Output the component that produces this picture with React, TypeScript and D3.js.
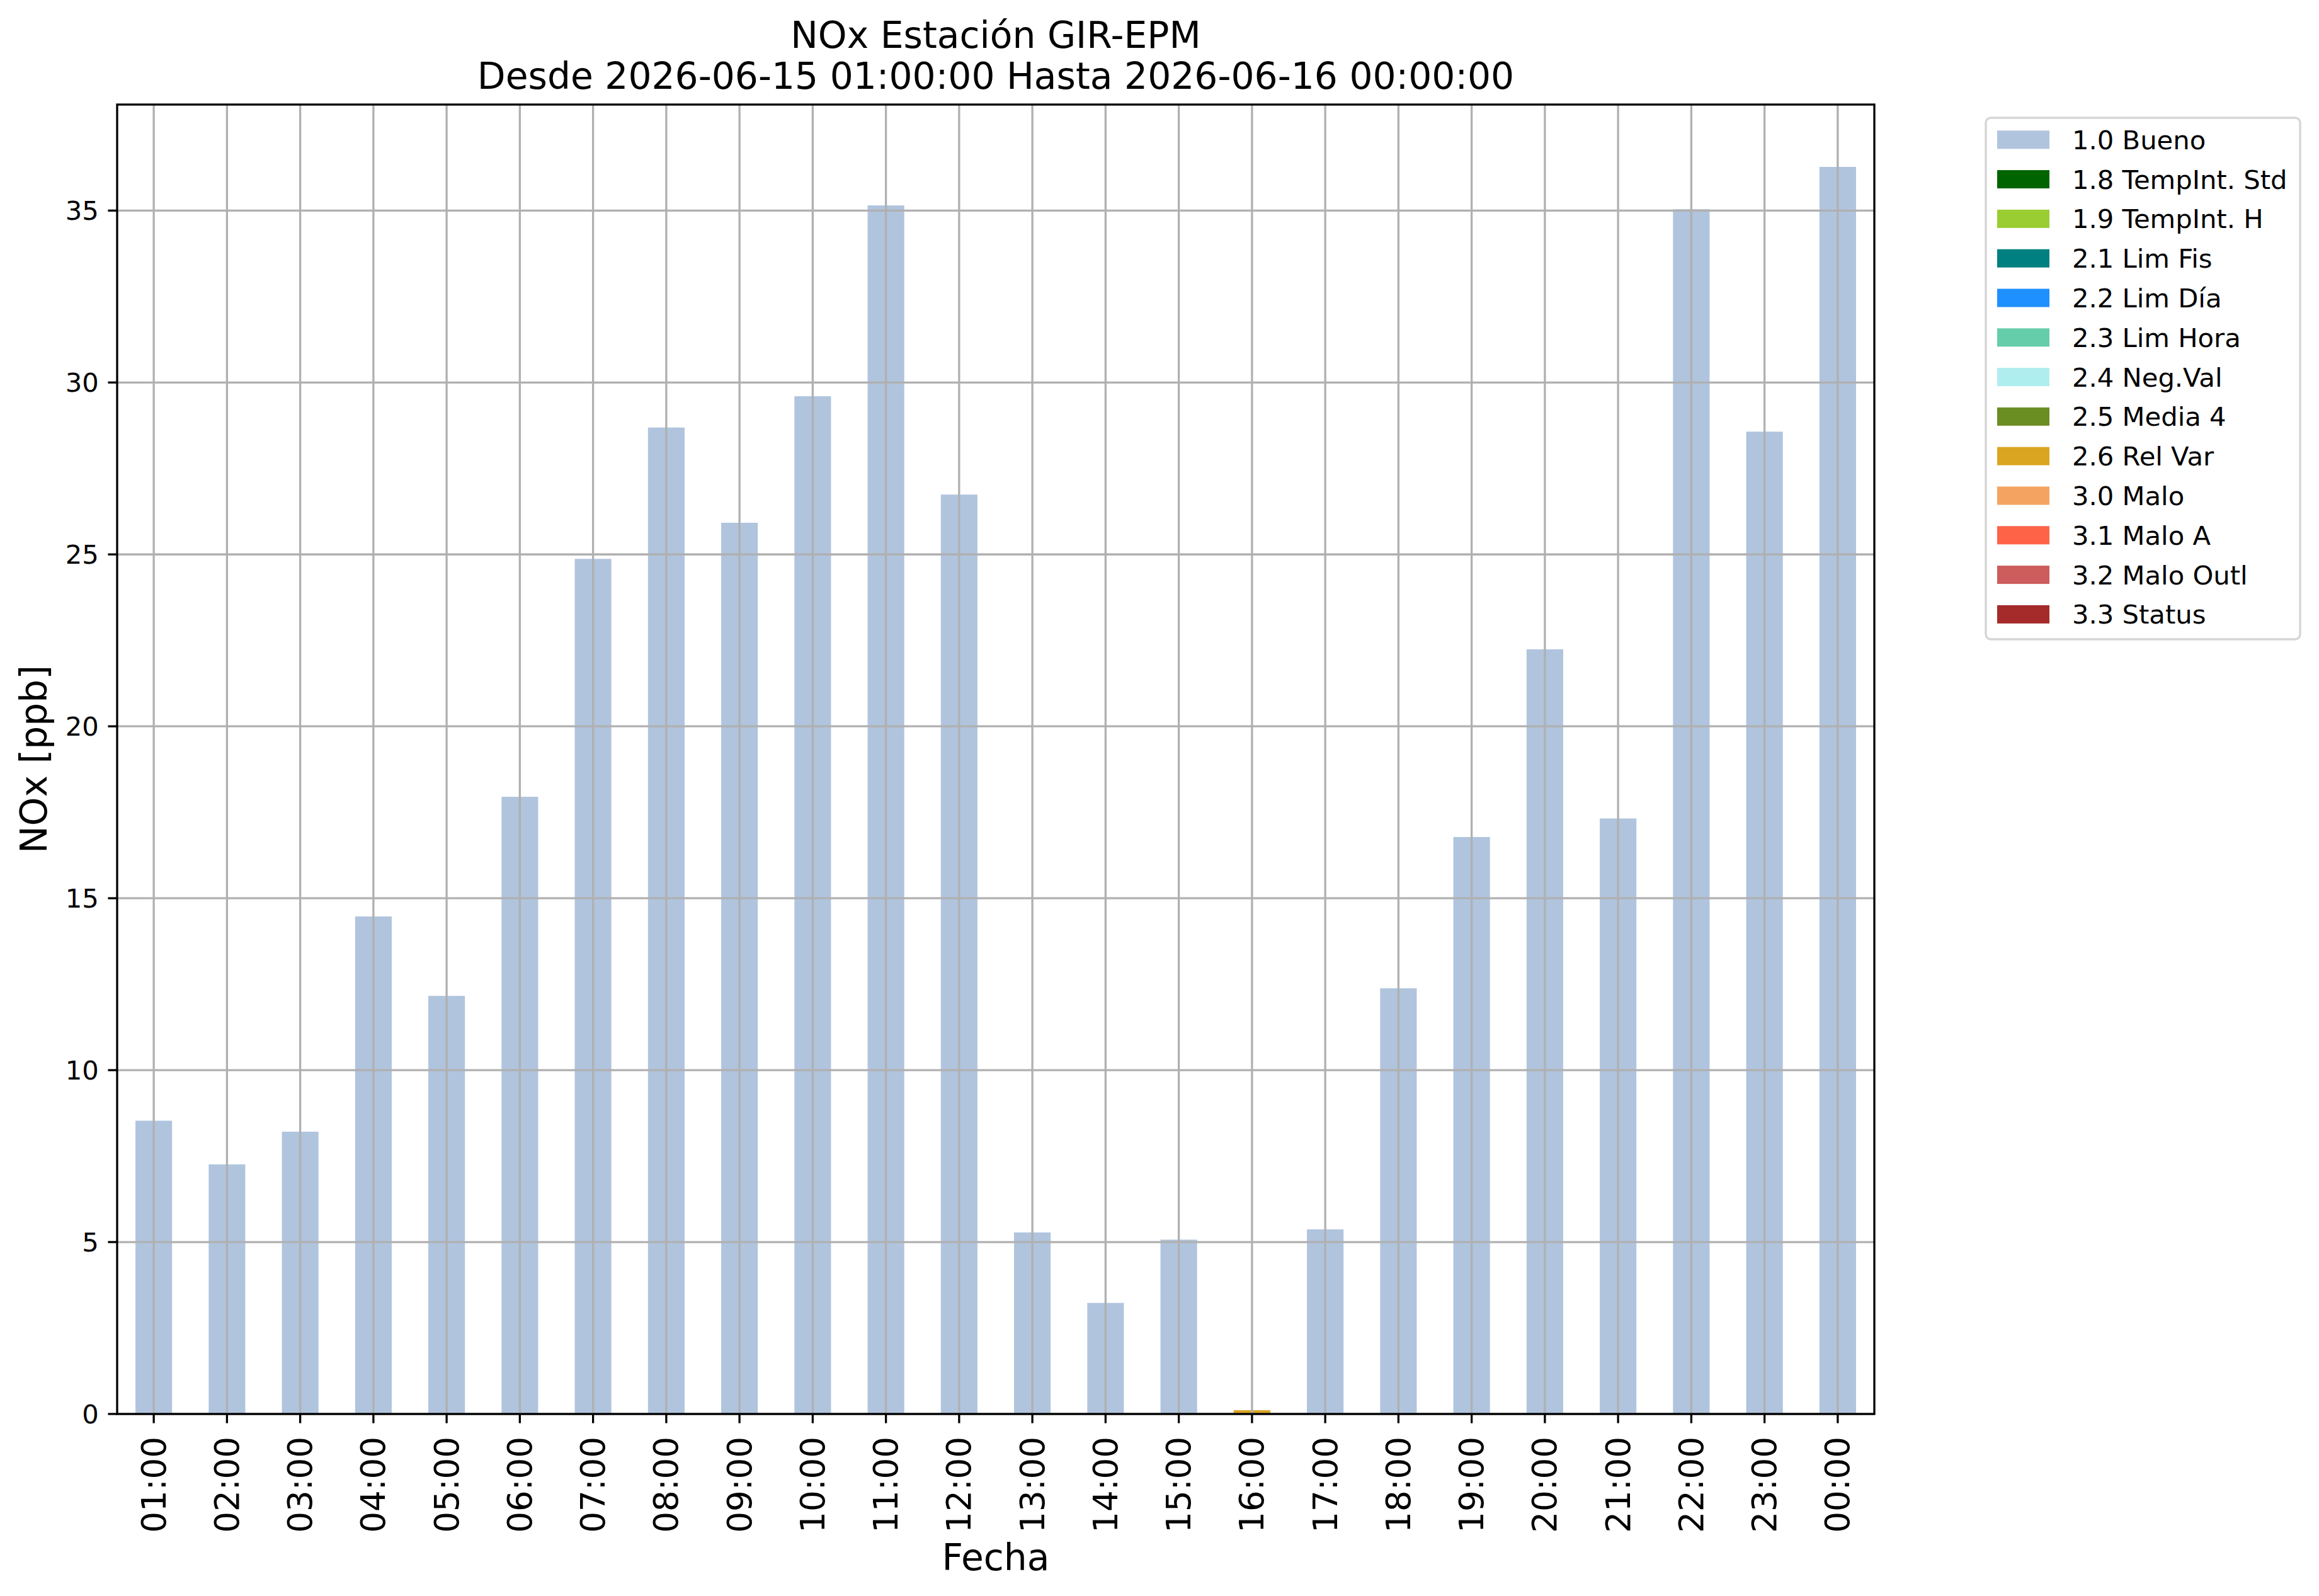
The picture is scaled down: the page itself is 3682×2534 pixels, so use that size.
import React from "react";
import * as d3 from "d3";

const hours = ["01:00","02:00","03:00","04:00","05:00","06:00","07:00","08:00","09:00","10:00","11:00","12:00","13:00","14:00","15:00","16:00","17:00","18:00","19:00","20:00","21:00","22:00","23:00","00:00"];

const flagLabels = ["1.0 Bueno","1.8 TempInt. Std","1.9 TempInt. H","2.1 Lim Fis","2.2 Lim Día","2.3 Lim Hora","2.4 Neg.Val","2.5 Media 4","2.6 Rel Var","3.0 Malo","3.1 Malo A","3.2 Malo Outl","3.3 Status"];
const flagColors = ["#B0C4DE","#006400","#9ACD32","#008080","#1E90FF","#66CDAA","#AFEEEE","#6B8E23","#DAA520","#F4A460","#FF6347","#CD5C5C","#A52A2A"];

const buenoValues = [8.53,7.26,8.21,14.47,12.16,17.95,24.87,28.69,25.92,29.60,35.15,26.74,5.28,3.23,5.07,0,5.37,12.38,16.78,22.24,17.32,35.04,28.57,36.27];
const relVarValues = [0,0,0,0,0,0,0,0,0,0,0,0,0,0,0,0.11,0,0,0,0,0,0,0,0];

const yTicks = [0,5,10,15,20,25,30,35];

const titleLines = ["NOx Estación GIR-EPM","Desde 2026-06-15 01:00:00 Hasta 2026-06-16 00:00:00"];
const xLabel = "Fecha";
const yLabel = "NOx [ppb]";

const W = 3682, H = 2534;
const L = 186, R = 2976, T = 166, B = 2245;
const FONT = "DejaVu Sans";

export default function App() {
  const rows = hours.map((h, i) => {
    const r: any = { hour: h };
    flagLabels.forEach((f) => (r[f] = 0));
    r[flagLabels[0]] = buenoValues[i];
    r[flagLabels[8]] = relVarValues[i];
    return r;
  });
  const stacked = d3.stack<any>().keys(flagLabels)(rows);
  const maxV = d3.max(rows, (r: any) => d3.sum(flagLabels, (f) => r[f])) as number;

  const x = d3.scaleBand().domain(hours).range([L, R]).paddingInner(0.5).paddingOuter(0.25);
  const y = d3.scaleLinear().domain([0, maxV * 1.05]).range([B, T]);
  const cx = (h: string) => (x(h) as number) + x.bandwidth() / 2;

  const tickLen = 14.6;
  const sw = 3.3;

  const legRowH = 62.8;
  const legX = 3153, legY = 187, legW = 499, legH = 828;

  return (
    <div style={{ position: "absolute", left: 0, top: 0 }}>
      <svg width={W} height={H} style={{ display: "block", background: "#fff" }} fontFamily={FONT}>
        <rect x={0} y={0} width={W} height={H} fill="#fff" />
        {/* bars */}
        {stacked.map((s, si) => (
          <g key={si} fill={flagColors[si]}>
            {s.map((d, i) => {
              const h = y(d[0]) - y(d[1]);
              if (h <= 0) return null;
              return <rect key={i} x={x(hours[i])} y={y(d[1])} width={x.bandwidth()} height={h} />;
            })}
          </g>
        ))}
        {/* grid */}
        <g stroke="#b0b0b0" strokeWidth={sw}>
          {hours.map((h) => (
            <line key={h} x1={cx(h)} x2={cx(h)} y1={T} y2={B} />
          ))}
          {yTicks.map((t) => (
            <line key={t} x1={L} x2={R} y1={y(t)} y2={y(t)} />
          ))}
        </g>
        {/* frame */}
        <rect x={L} y={T} width={R - L} height={B - T} fill="none" stroke="#000" strokeWidth={sw} />
        {/* y ticks */}
        <g>
          {yTicks.map((t) => (
            <g key={t}>
              <line x1={L - tickLen} x2={L} y1={y(t)} y2={y(t)} stroke="#000" strokeWidth={sw} />
              <text x={L - tickLen - 14.6} y={y(t)} textAnchor="end" dominantBaseline="central" fontSize={41.7}>
                {t}
              </text>
            </g>
          ))}
        </g>
        {/* x ticks */}
        <g>
          {hours.map((h) => (
            <g key={h}>
              <line x1={cx(h)} x2={cx(h)} y1={B} y2={B + tickLen} stroke="#000" strokeWidth={sw} />
              <text
                transform={`translate(${cx(h)},${2281}) rotate(-90)`}
                textAnchor="end"
                dominantBaseline="central"
                fontSize={53}
              >
                {h}
              </text>
            </g>
          ))}
        </g>
        {/* labels */}
        <text x={(L + R) / 2} y={2493} textAnchor="middle" fontSize={58.3}>{xLabel}</text>
        <text transform={`translate(74,${(T + B) / 2}) rotate(-90)`} textAnchor="middle" fontSize={58.3}>{yLabel}</text>
        {/* title */}
        <text x={(L + R) / 2} y={76} textAnchor="middle" fontSize={58.3}>{titleLines[0]}</text>
        <text x={(L + R) / 2} y={141} textAnchor="middle" fontSize={58.3}>{titleLines[1]}</text>
        {/* legend */}
        <rect x={legX} y={legY} width={legW} height={legH} rx={8} ry={8} fill="#fff" fillOpacity={0.8} stroke="#d6d6d6" strokeWidth={3.5} />
        {flagLabels.map((f, i) => (
          <g key={f}>
            <rect x={3171} y={207.3 + i * legRowH} width={83} height={29} fill={flagColors[i]} />
            <text x={3290} y={236.7 + i * legRowH} fontSize={41.7}>{f}</text>
          </g>
        ))}
      </svg>
    </div>
  );
}
